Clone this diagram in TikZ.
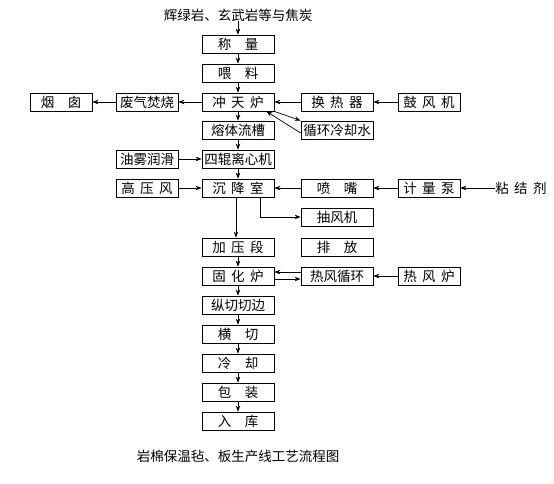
\documentclass[tikz,border=0pt]{standalone}
\usepackage{fontspec}
\setmainfont{Noto Sans CJK SC}
\usetikzlibrary{arrows.meta}
\begin{document}
\begin{tikzpicture}[x=1pt,y=-1pt,
  box/.style={draw,line width=0.8pt,minimum height=18pt,inner sep=0pt,font=\fontsize{13.5}{14}\selectfont},
  wm/.style={box,minimum width=72pt},
  wn/.style={box,minimum width=62pt},
  arr/.style={line width=0.7pt,-{Stealth[length=6pt,width=4.5pt]}},
  txt/.style={font=\fontsize{13.5}{14}\selectfont,inner sep=0pt}]
\useasboundingbox (0,0) rectangle (554,484);
\def\sp{\hspace{1em}}
\def\sq{\hspace{0.4em}}
\node[txt] (src) at (238,15) {辉绿岩、玄武岩等与焦炭};
\node[wm] (cl) at (238,44) {称\sp 量};
\node[wm] (wl) at (238,73) {喂\sp 料};
\node[wm] (cth) at (238,102) {冲\sq 天\sq 炉};
\node[wm] (hrq) at (337,102) {换\sq 热\sq 器};
\node[wn] (gfj) at (429,102) {鼓\sq 风\sq 机};
\node[wn] (fq) at (147,102) {废气焚烧};
\node[wn] (yc) at (61,102) {烟\sp 囱};
\node[wm] (rt) at (238,130) {熔体流槽};
\node[wm] (xh) at (337,130) {循环冷却水};
\node[wm] (sg) at (238,159) {四辊离心机};
\node[wn] (yw) at (147,159) {油雾润滑};
\node[wm] (csj) at (238,188) {沉\sq 降\sq 室};
\node[wn] (gyf) at (147,188) {高\sq 压\sq 风};
\node[wm] (pz) at (337,188) {喷\sp 嘴};
\node[wn] (jlb) at (429,188) {计\sq 量\sq 泵};
\node[txt] (njj) at (521,188) {粘\sq 结\sq 剂};
\node[wm] (cfj) at (337,217) {抽风机};
\node[wm] (jyd) at (238,247) {加\sq 压\sq 段};
\node[wm] (pf) at (337,247) {排\sp 放};
\node[wm] (ghl) at (238,276) {固\sq 化\sq 炉};
\node[wm] (rfxh) at (337,276) {热风循环};
\node[wn] (rfl) at (429,276) {热\sq 风\sq 炉};
\node[wm] (zq) at (238,305) {纵切切边};
\node[wm] (hq) at (238,334) {横\sp 切};
\node[wm] (lq) at (238,363) {冷\sp 却};
\node[wm] (bz) at (238,392) {包\sp 装};
\node[wm] (rk) at (238,421) {入\sp 库};
\node[txt] (cap) at (238,456) {岩棉保温毡、板生产线工艺流程图};

\draw[arr] (src) -- (cl);
\draw[arr] (cl) -- (wl);
\draw[arr] (wl) -- (cth);
\draw[arr] (gfj) -- (hrq);
\draw[arr] (hrq) -- (cth);
\draw[arr] (cth) -- (fq);
\draw[arr] (fq) -- (yc);
\draw[arr] (cth) -- (rt);
\draw[arr] (cth.south east) -- (xh.north west);
\draw[arr] ([yshift=-3pt]xh.west) -- ([xshift=-8pt]cth.south east);
\draw[arr] (rt) -- (sg);
\draw[arr] (yw) -- (sg);
\draw[arr] (sg) -- (csj);
\draw[arr] (gyf) -- (csj);
\draw[arr] (pz) -- (csj);
\draw[arr] (jlb) -- (pz);
\draw[arr] (njj) -- (jlb);
\draw[arr] ([xshift=-2pt]csj.south) -- ([xshift=-2pt]jyd.north);
\draw[arr] ([xshift=22pt]csj.south) |- (cfj.west);
\draw[arr] (jyd) -- (ghl);
\draw[arr] ([yshift=4pt]rfxh.west) -- ([yshift=4pt]ghl.east);
\draw[arr] ([yshift=-3pt]ghl.east) -- ([yshift=-3pt]rfxh.west);
\draw[arr] (rfl) -- (rfxh);
\draw[arr] (ghl) -- (zq);
\draw[arr] (zq) -- (hq);
\draw[arr] (hq) -- (lq);
\draw[arr] (lq) -- (bz);
\draw[arr] (bz) -- (rk);
\end{tikzpicture}
\end{document}
